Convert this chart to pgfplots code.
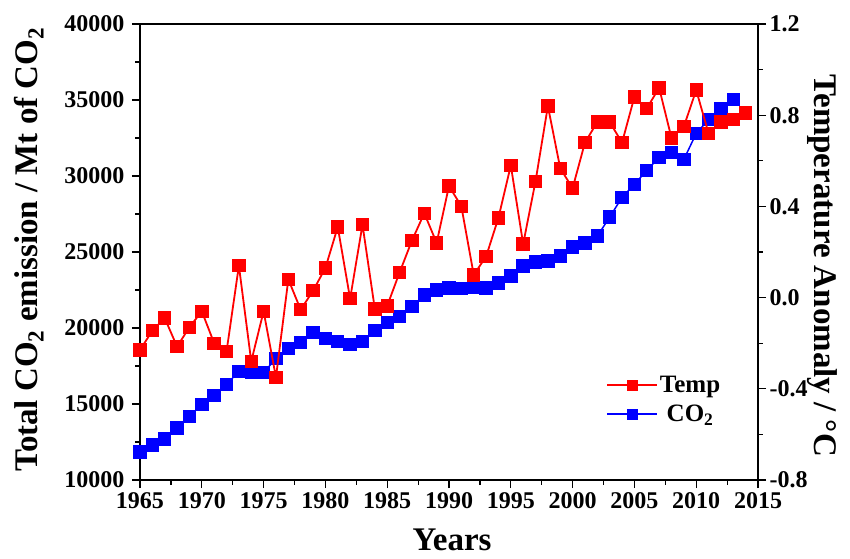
\documentclass[border=0pt]{standalone}
\usepackage{pgfplots}
\pgfplotsset{compat=1.18}
\usepackage{fontspec}
\setmainfont{Liberation Serif}
\definecolor{tred}{RGB}{255,0,0}
\definecolor{cblue}{RGB}{0,0,255}
\pgfplotsset{
  myleg/.style={legend image code/.code={%
    \draw[##1] (0pt,0pt) -- (50pt,0pt);
    \draw[##1,only marks,mark size=5pt] plot coordinates {(25pt,0pt)};}},
}
\begin{document}
\begin{tikzpicture}
\path[use as bounding box] (-140pt,-78pt) rectangle (710pt,480pt);
\begin{axis}[
  at={(0pt,0pt)}, anchor=south west,
  scale only axis, width=618pt, height=456pt,
  xmin=1965, xmax=2015, ymin=10000, ymax=40000,
  xtick={1965,1970,...,2015}, minor x tick num=1,
  ytick={10000,15000,...,40000}, minor y tick num=1,
  scaled y ticks=false,
  xtick pos=left, ytick pos=left,
  tick align=outside,
  major tick length=8pt, minor tick length=4.5pt,
  every tick/.style={black, line width=1.2pt},
  axis line style={line width=1.3pt},
  /pgf/number format/1000 sep={},
  /pgf/number format/assume math mode=true,
  tick label style={font=\bfseries\fontsize{24}{24}\selectfont},
  xticklabel style={yshift=-1pt},
  yticklabel style={xshift=-4pt},
  xlabel={\bfseries Years},
  xlabel style={font=\fontsize{33}{33}\selectfont, at={(axis description cs:0.505,-0.131)}, anchor=center},
  ylabel={\bfseries Total CO$_{\mathbf 2}$ emission / Mt of CO$_{\mathbf 2}$},
  ylabel style={font=\fontsize{33}{33}\selectfont, at={(axis description cs:-0.18,0.505)}, anchor=center},
  clip mode=individual,
]
\addplot[cblue, line width=1.5pt, mark=square*, mark size=6.2pt, mark options={solid,fill=cblue,draw=cblue,line width=0pt}] coordinates {
(1965,11835) (1966,12290) (1967,12690) (1968,13410) (1969,14190) (1970,14980)
(1971,15568) (1972,16290) (1973,17140) (1974,17075) (1975,17075) (1976,17990)
(1977,18650) (1978,19040) (1979,19700) (1980,19300) (1981,19100) (1982,18910)
(1983,19100) (1984,19830) (1985,20350) (1986,20740) (1987,21400) (1988,22180)
(1989,22510) (1990,22640) (1991,22580) (1992,22710) (1993,22640) (1994,22970)
(1995,23430) (1996,24090) (1997,24350) (1998,24410) (1999,24740) (2000,25330)
(2001,25590) (2002,26050) (2003,27290) (2004,28600) (2005,29450) (2006,30370)
(2007,31220) (2008,31550) (2009,31090) (2010,32800) (2011,33710) (2012,34430)
(2013,35020)
};
\end{axis}
\begin{axis}[
  at={(0pt,0pt)}, anchor=south west,
  scale only axis, width=618pt, height=456pt,
  xmin=1965, xmax=2015, ymin=-0.8, ymax=1.2,
  axis x line=none, axis y line*=right,
  ytick={-0.8,-0.4,...,1.21}, minor y tick num=1,
  ytick pos=right,
  tick align=outside,
  major tick length=8pt, minor tick length=4.5pt,
  every tick/.style={black, line width=1.2pt},
  axis line style={line width=1.3pt},
  /pgf/number format/.cd, fixed, fixed zerofill, precision=1, assume math mode=true, /pgfplots/.cd,
  tick label style={font=\bfseries\fontsize{24}{24}\selectfont},
  ylabel={\bfseries Temperature Anomaly / °C},
  ylabel style={font=\fontsize{33}{33}\selectfont, at={(axis description cs:1.104,0.47)}, anchor=center, rotate=180},
  clip mode=individual,
  legend style={draw=none, fill=none, at={(axis description cs:0.754,0.232)}, anchor=north west,
    font=\bfseries\fontsize{25}{25}\selectfont, row sep=7pt, inner sep=0pt},
  myleg,
]
\addplot[tred, line width=1.8pt, mark=square*, mark size=6.2pt, mark options={solid,fill=tred,draw=tred,line width=0pt}] coordinates {
(1965,-0.23) (1966,-0.145) (1967,-0.09) (1968,-0.215) (1969,-0.13) (1970,-0.06)
(1971,-0.20) (1972,-0.237) (1973,0.14) (1974,-0.28) (1975,-0.06) (1976,-0.35)
(1977,0.08) (1978,-0.053) (1979,0.03) (1980,0.13) (1981,0.31) (1982,-0.005)
(1983,0.32) (1984,-0.05) (1985,-0.036) (1986,0.11) (1987,0.25) (1988,0.37)
(1989,0.24) (1990,0.49) (1991,0.40) (1992,0.10) (1993,0.18) (1994,0.35)
(1995,0.58) (1996,0.235) (1997,0.51) (1998,0.84) (1999,0.567) (2000,0.48)
(2001,0.68) (2002,0.77) (2003,0.77) (2004,0.68) (2005,0.88) (2006,0.83)
(2007,0.92) (2008,0.70) (2009,0.75) (2010,0.91) (2011,0.72) (2012,0.77)
(2013,0.78) (2014,0.81)
};
\addlegendentry{Temp}
\addlegendimage{cblue, line width=1.8pt, mark=square*, mark options={solid,fill=cblue,draw=cblue,line width=0pt}}
\addlegendentry{CO$_{\mathbf 2}$}
\end{axis}
\end{tikzpicture}
\end{document}
